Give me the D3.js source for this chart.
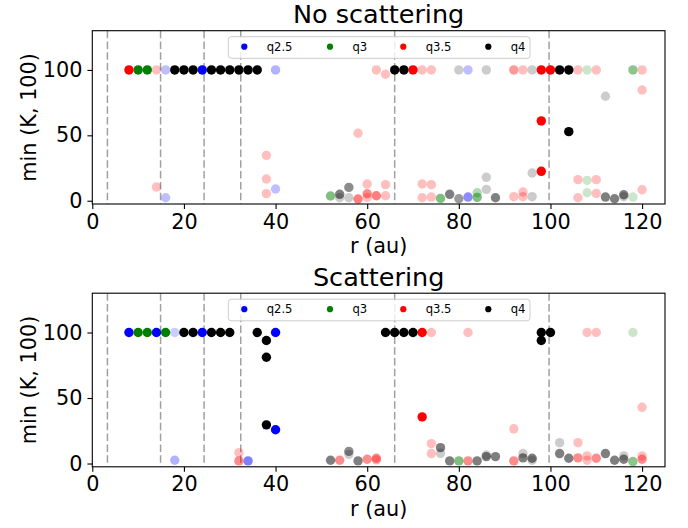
<!DOCTYPE html>
<html>
<head>
<meta charset="utf-8">
<script src="https://cdn.jsdelivr.net/npm/d3@7"></script>
<style>
  html, body { margin: 0; padding: 0; background: #fff; }
  svg { display: block; }
  text { font-family: "DejaVu Sans", sans-serif; }
</style>
</head>
<body>
<svg id="chart" width="688" height="528"></svg>
<script>
// ---------------- DATA ----------------
// weight: 1 = strong, 0.5 = medium, 0.25 = weak (drawn as marker opacity)
const seriesNames = ["q2.5", "q3", "q3.5", "q4"];
const panelTitles = ["No scattering", "Scattering"];
const xTicks = [0, 20, 40, 60, 80, 100, 120];
const yTicks = [0, 50, 100];
const ringRadii = [3.3, 14.9, 24.4, 32.4, 66.0, 99.7];

// ---- No scattering ----
const noScat_q25_r = [16, 16, 24, 40, 40, 82, 82];
const noScat_q25_v = [100, 2.3, 100, 100, 9, 100, 2.8];
const noScat_q25_w = [0.25, 0.25, 1, 0.3, 0.25, 0.25, 0.45];

const noScat_q3_r = [10, 12, 52, 76, 84, 84, 108, 108, 108, 118, 118];
const noScat_q3_v = [100, 100, 3.6, 1.8, 6.1, 2.6, 100, 15.6, 6.1, 100, 2.8];
const noScat_q3_w = [1, 1, 0.5, 0.5, 0.3, 0.5, 0.2, 0.2, 0.2, 0.45, 0.2];

const noScat_q35_r = [8, 14, 14, 38, 38, 38, 58, 58, 60, 60, 60, 62, 62, 64, 64, 64,
  70, 72, 72, 72, 74, 74, 74, 92, 92, 94, 94, 94, 98, 98, 98, 100,
  106, 106, 106, 110, 110, 110, 120, 120, 120];
const noScat_q35_v = [100, 100, 10.5, 34.7, 16.6, 5.4, 51.6, 1.3, 12.8, 5.3, 2.5, 100, 3.8, 96.7, 12.3, 3.8,
  100, 100, 12.8, 2.3, 100, 12.3, 2.8, 100, 3.1, 100, 6.7, 3.1, 100, 61, 22.5, 100,
  100, 16.1, 2.3, 100, 16.1, 5.6, 100, 84.7, 8.4];
const noScat_q35_w = [1, 0.25, 0.25, 0.25, 0.25, 0.25, 0.25, 0.5, 0.25, 0.45, 0.25, 0.25, 0.5, 0.25, 0.25, 0.25,
  1, 0.25, 0.25, 0.25, 0.25, 0.25, 0.25, 0.4, 0.25, 0.25, 0.25, 0.25, 1, 1, 1, 1,
  0.25, 0.25, 0.25, 0.25, 0.25, 0.25, 0.25, 0.25, 0.25];

const noScat_q4_r = [18, 20, 22, 26, 28, 30, 32, 34, 36, 54, 54, 56, 56, 66, 68, 78, 80, 80,
  86, 86, 86, 88, 96, 96, 96, 102, 104, 104, 112, 112, 114, 116, 116];
const noScat_q4_v = [100, 100, 100, 100, 100, 100, 100, 100, 100, 4.9, 2.3, 10.2, 2.3, 100, 100, 4.9, 100, 1.5,
  100, 17.9, 8.7, 2.3, 100, 21.2, 3.1, 100, 100, 52.8, 79.9, 2.8, 1.5, 4.6, 3.1];
const noScat_q4_w = [1, 1, 1, 1, 1, 1, 1, 1, 1, 0.5, 0.2, 0.45, 0.2, 1, 1, 0.5, 0.2, 0.4,
  0.2, 0.2, 0.2, 0.5, 0.2, 0.2, 0.2, 1, 1, 1, 0.2, 0.5, 0.5, 0.5, 0.2];

// ---- Scattering ----
const scat_q25_r = [8, 14, 18, 18, 24, 34, 40, 40];
const scat_q25_v = [100, 100, 100, 2.5, 100, 2, 100, 25.8];
const scat_q25_w = [1, 1, 0.2, 0.3, 1, 0.5, 1, 1];

const scat_q3_r = [10, 12, 16, 80, 118, 118];
const scat_q3_v = [100, 100, 100, 2, 100, 1.5];
const scat_q3_w = [1, 1, 1, 0.5, 0.2, 0.45];

const scat_q35_r = [32, 32, 54, 60, 62, 62, 72, 72, 74, 74, 74, 82, 82, 92, 92,
  106, 106, 108, 108, 108, 110, 110, 120, 120, 120];
const scat_q35_v = [8.3, 2, 2.5, 3.3, 4, 2.8, 100, 35.6, 100, 15.2, 7.6, 100, 2, 26.5, 2,
  15.9, 4.3, 100, 5.8, 2.5, 100, 4, 42.9, 5.8, 3.3];
const scat_q35_w = [0.25, 0.45, 0.45, 0.45, 0.45, 0.3, 1, 1, 0.25, 0.25, 0.25, 0.25, 0.45, 0.25, 0.45,
  0.25, 0.45, 0.25, 0.25, 0.25, 0.25, 0.45, 0.25, 0.25, 0.45];

const scat_q4_r = [20, 22, 26, 28, 30, 36, 38, 38, 38, 52, 56, 56, 58, 64, 66, 68, 70,
  76, 76, 78, 84, 86, 86, 88, 94, 94, 96, 96, 98, 98, 100, 102, 102, 104, 112, 114, 116, 116];
const scat_q4_v = [100, 100, 100, 100, 100, 100, 93.9, 81.1, 29.5, 2.5, 9.3, 7, 2, 100, 100, 100, 100,
  12.1, 7.8, 2, 2, 6.5, 5.3, 5.3, 7.6, 4.3, 4, 2.5, 100, 93.9, 100, 15.9, 7.6, 4, 7.6, 2.5, 5.8, 3.3];
const scat_q4_w = [1, 1, 1, 1, 1, 1, 1, 1, 1, 0.5, 0.45, 0.2, 0.5, 1, 1, 1, 1,
  0.5, 0.2, 0.5, 0.5, 0.2, 0.5, 0.5, 0.2, 0.5, 0.5, 0.2, 1, 1, 1, 0.2, 0.5, 0.5, 0.5, 0.5, 0.2, 0.5];

const seriesColors = ["#0000ff", "#008000", "#ff0000", "#000000"];

// ---------------- BUILD ----------------
function zipSeries(r, v, w) { return r.map((d, i) => ({ r: d, v: v[i], w: w[i] })); }

const panels = [
  {
    title: panelTitles[0], top: 30.7, bottom: 204,
    series: [
      zipSeries(noScat_q25_r, noScat_q25_v, noScat_q25_w),
      zipSeries(noScat_q3_r, noScat_q3_v, noScat_q3_w),
      zipSeries(noScat_q35_r, noScat_q35_v, noScat_q35_w),
      zipSeries(noScat_q4_r, noScat_q4_v, noScat_q4_w)
    ]
  },
  {
    title: panelTitles[1], top: 293.2, bottom: 466.8,
    series: [
      zipSeries(scat_q25_r, scat_q25_v, scat_q25_w),
      zipSeries(scat_q3_r, scat_q3_v, scat_q3_w),
      zipSeries(scat_q35_r, scat_q35_v, scat_q35_w),
      zipSeries(scat_q4_r, scat_q4_v, scat_q4_w)
    ]
  }
];

const svg = d3.select("#chart");
const left = 92.3, right = 665;
const x = d3.scaleLinear().domain([0, 125]).range([left, right]);
const color = d3.scaleOrdinal().domain(seriesNames).range(seriesColors);
const FS = 20.8;

panels.forEach((p, pi) => {
  const y = d3.scaleLinear().domain([-2.5, 130]).range([p.bottom, p.top]);
  const g = svg.append("g");

  // clip
  const clipId = "clip" + pi;
  svg.append("clipPath").attr("id", clipId).append("rect")
    .attr("x", left).attr("y", p.top).attr("width", right - left).attr("height", p.bottom - p.top);

  const plot = g.append("g").attr("clip-path", `url(#${clipId})`);

  // dashed ring lines
  plot.selectAll("line.ring").data(ringRadii).enter().append("line")
    .attr("x1", d => x(d)).attr("x2", d => x(d))
    .attr("y1", p.top).attr("y2", p.bottom)
    .attr("stroke", "#808080").attr("stroke-opacity", 0.75)
    .attr("stroke-width", 1.5).attr("stroke-dasharray", "7.5,3.3");

  // points
  p.series.forEach((s, si) => {
    plot.append("g").selectAll("circle").data(s).enter().append("circle")
      .attr("cx", d => x(d.r)).attr("cy", d => y(d.v)).attr("r", 4.7)
      .attr("fill", color(seriesNames[si])).attr("fill-opacity", d => d.w);
  });

  // axes
  const xa = g.append("g").attr("transform", `translate(0,${p.bottom})`)
    .call(d3.axisBottom(x).tickValues(xTicks).tickSize(4.9).tickPadding(4.9).tickFormat(d3.format("d")));
  const ya = g.append("g").attr("transform", `translate(${left},0)`)
    .call(d3.axisLeft(y).tickValues(yTicks).tickSize(4.9).tickPadding(4.9).tickFormat(d3.format("d")));
  [xa, ya].forEach(a => {
    a.select(".domain").remove();
    a.selectAll(".tick line").attr("stroke", "#000").attr("stroke-width", 1.1);
    a.selectAll(".tick text").attr("font-size", FS).attr("font-family", "DejaVu Sans").attr("fill", "#000");
  });

  // frame
  g.append("rect").attr("x", left).attr("y", p.top)
    .attr("width", right - left).attr("height", p.bottom - p.top)
    .attr("fill", "none").attr("stroke", "#000").attr("stroke-width", 1.1);

  // title
  g.append("text").attr("x", (left + right) / 2).attr("y", p.top - 7.5)
    .attr("text-anchor", "middle").attr("font-size", 25.5).text(p.title);

  // x label
  g.append("text").attr("x", (left + right) / 2).attr("y", p.bottom + 49)
    .attr("text-anchor", "middle").attr("font-size", FS).text("r (au)");

  // y label
  g.append("text")
    .attr("transform", `translate(36,${(p.top + p.bottom) / 2}) rotate(-90)`)
    .attr("text-anchor", "middle").attr("font-size", FS).text("min (K, 100)");

  // legend
  const lg = g.append("g").attr("transform", `translate(228.3,${p.top + 6})`);
  lg.append("rect").attr("width", 301.7).attr("height", 21.6).attr("rx", 3)
    .attr("fill", "#fff").attr("fill-opacity", 0.8)
    .attr("stroke", "#cccccc").attr("stroke-width", 1);
  const itemX = [16, 101.7, 175, 260];
  seriesNames.forEach((nm, i) => {
    lg.append("circle").attr("cx", itemX[i]).attr("cy", 10).attr("r", 3.1).attr("fill", color(nm));
    lg.append("text").attr("x", itemX[i] + 22.4).attr("y", 14.2)
      .attr("font-size", 11.6).attr("fill", "#000").text(nm);
  });
});
</script>
</body>
</html>
